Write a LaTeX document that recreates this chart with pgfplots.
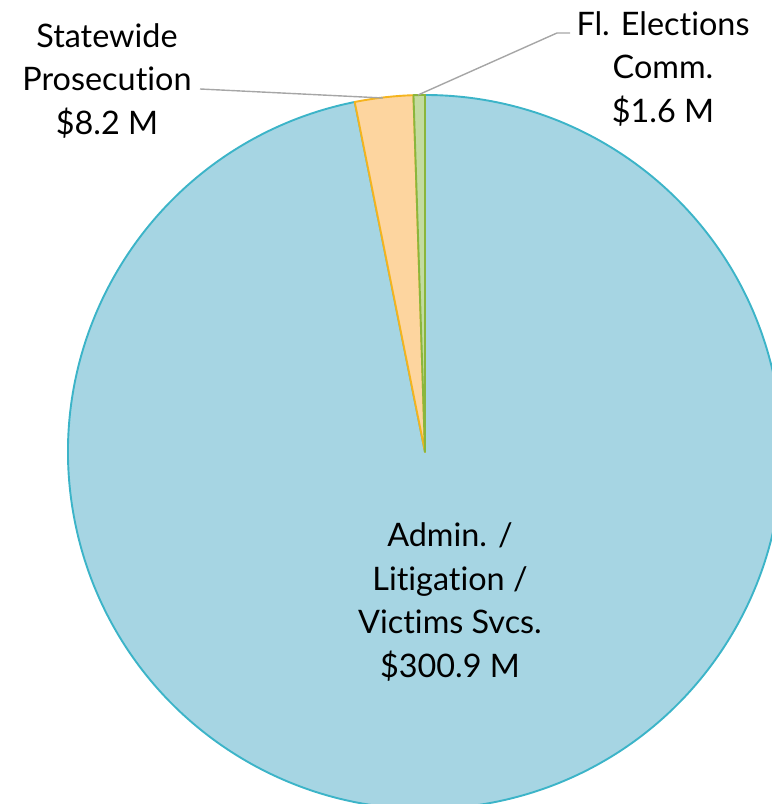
\documentclass[border=0pt]{standalone}
\usepackage{fontspec}
\setmainfont{Lato}[Ligatures={NoCommon,NoRequired,NoContextual}]
\usepackage{pgfplots}
\usepackage{pgfplotstable}
\pgfplotsset{compat=1.18}
\definecolor{adminfill}{HTML}{A6D5E3}
\definecolor{adminedge}{HTML}{3CB4C8}
\definecolor{spfill}{HTML}{FDD59F}
\definecolor{spedge}{HTML}{F5B41E}
\definecolor{flfill}{HTML}{C3DBA0}
\definecolor{fledge}{HTML}{8AB63C}
\definecolor{leader}{HTML}{A6A6A6}
\pgfplotstableread[col sep=comma]{
name,value
Fl. Elections Comm.,1.6
Statewide Prosecution,8.2
Admin. / Litigation / Victims Svcs.,300.9
}\piedata
\begin{document}
\begin{tikzpicture}
\pgfplotstablegetelem{0}{value}\of\piedata \edef\va{\pgfplotsretval}
\pgfplotstablegetelem{1}{value}\of\piedata \edef\vb{\pgfplotsretval}
\pgfplotstablegetelem{2}{value}\of\piedata \edef\vc{\pgfplotsretval}
\pgfmathsetmacro\tot{\va+\vb+\vc}
\pgfmathsetmacro\aB{90+360*\va/\tot}
\pgfmathsetmacro\aC{\aB+360*\vb/\tot}
\def\R{357bp}
\begin{axis}[
  name=ax,
  width=772bp, height=804bp, scale only axis,
  xmin=0, xmax=772, ymin=0, ymax=804,
  hide axis, clip=true,
]
\draw[adminedge, line width=1.9bp, fill=adminfill]
  (axis cs:425,352) -- ++(\aC:\R) arc[start angle=\aC, end angle=450, radius=\R] -- cycle;
\draw[spedge, line width=1.9bp, fill=spfill, line join=round]
  (axis cs:425,352) -- ++(\aB:\R) arc[start angle=\aB, end angle=\aC, radius=\R] -- cycle;
\draw[fledge, line width=1.9bp, fill=flfill, line join=round]
  (axis cs:425,352) -- ++(90:\R) arc[start angle=90, end angle=\aB, radius=\R] -- cycle;
\draw[leader, line width=1.4bp] (axis cs:200,715) -- (axis cs:383,706);
\draw[leader, line width=1.4bp] (axis cs:570,771) -- (axis cs:557,771) -- (axis cs:418,709);
\tikzset{lbl/.style={align=center, inner sep=0pt, font=\fontsize{32.5}{44}\selectfont}}
\node[lbl] at (axis cs:107,723) {Statewide\\Prosecution\\\$8.2 M};
\node[lbl] at (axis cs:663,735) {Fl. Elections\\Comm.\\\$1.6 M};
\node[lbl] at (axis cs:450,202) {Admin. /\\Litigation /\\Victims Svcs.\\\$300.9 M};
\end{axis}
\pgfresetboundingbox
\path[use as bounding box] (ax.south west) rectangle (ax.north east);
\end{tikzpicture}
\end{document}
